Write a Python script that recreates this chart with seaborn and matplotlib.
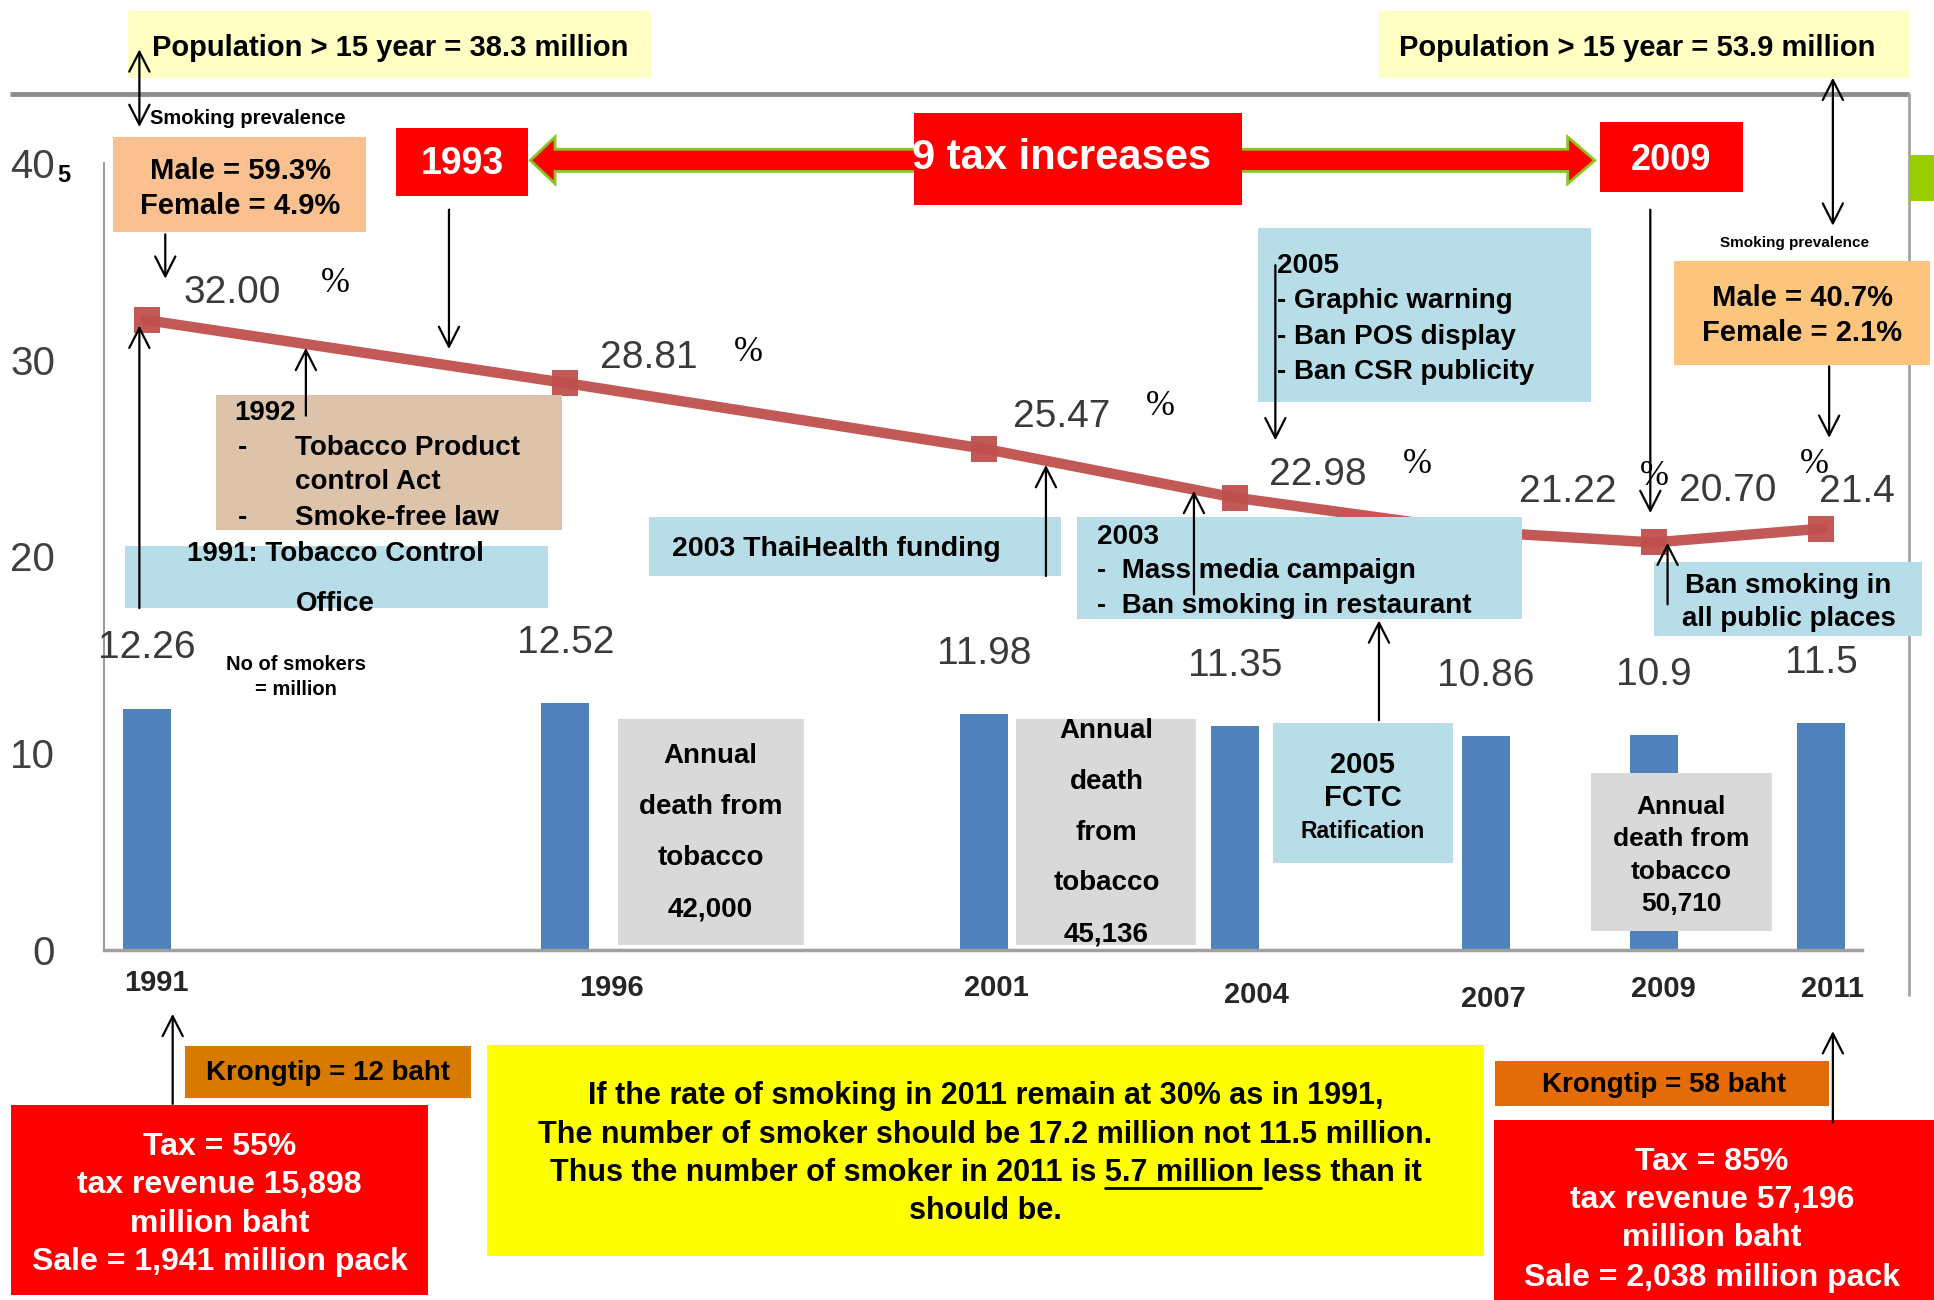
import matplotlib
matplotlib.use("Agg")
import matplotlib.pyplot as plt
import matplotlib.patches as mpatches
import seaborn as sns
import pandas as pd

# ---- data ----
years = [1991, 1996, 2001, 2004, 2007, 2009, 2011]
smokers_million = [12.26, 12.52, 11.98, 11.35, 10.86, 10.9, 11.5]
smoker_labels = ["12.26", "12.52", "11.98", "11.35", "10.86", "10.9", "11.5"]
prevalence = [32.00, 28.81, 25.47, 22.98, 21.22, 20.70, 21.4]
prevalence_labels = ["32.00", "28.81", "25.47", "22.98", "21.22", "20.70", "21.4"]
year_labels = ["1991", "1996", "2001", "2004", "2007", "2009", "2011"]
y_ticks = [0, 10, 20, 30, 40]

# slide units (the layout was measured on a 1568 x 1054 view of the slide)
W, H = 1568, 1054
PT = 1934 / W * 72 / 100  # slide px -> points

sns.set_theme(style="white")
BOLD = ['Liberation Sans', 'DejaVu Sans']
NUM = ['Liberation Sans', 'DejaVu Sans']
SERIF = ['Liberation Serif', 'DejaVu Serif']
plt.rcParams['font.family'] = BOLD

fig = plt.figure(figsize=(19.34, 13), dpi=100)

# ---- main chart ----
ax_l, ax_r, ax_t, ax_b = 84, 1510, 132, 770
ax = fig.add_axes([ax_l / W, 1 - ax_b / H, (ax_r - ax_l) / W, (ax_b - ax_t) / H])
ax.patch.set_alpha(0)
df = pd.DataFrame({'year': years, 'smokers': smokers_million, 'prevalence': prevalence})

sns.barplot(data=df, x='year', y='smokers', native_scale=True, width=0.2875,
            color='#4F81BD', saturation=1, linewidth=0, errorbar=None, ax=ax)
sns.lineplot(data=df, x='year', y='prevalence', color='#C0504D', lw=7.5,
             marker='s', markersize=19, markeredgewidth=0, alpha=0.95, ax=ax, zorder=3)

ax.set_xlim(1990.484, 2011.494)
ax.set_ylim(0, 40)
ax.set_xticks([])
ax.set_yticks(y_ticks)
ax.set_yticklabels([str(v) for v in y_ticks], fontsize=29, family=NUM, color='#404040')
ax.tick_params(axis='y', length=0, pad=35)
ax.set_xlabel('')
ax.set_ylabel('')
for s in ['top', 'right']:
    ax.spines[s].set_visible(False)
ax.spines['left'].set_color('#868686')
ax.spines['left'].set_linewidth(1.2)
ax.spines['bottom'].set_color('#A0A0A0')
ax.spines['bottom'].set_linewidth(2.5)

# bar value labels
for x, v, s in zip(years, smokers_million, smoker_labels):
    ax.annotate(s, (x, v), xytext=(0, 49 * PT), textcoords='offset points',
                ha='center', va='center', fontsize=28, family=NUM, color='#3A3A3A')

# prevalence labels (offsets in slide px)
line_off = [(69, -22), (68, -20), (63, -26), (67, -18), (66, -33), (60, -42), (29, -30)]
pct_off = [(153, -30), (148, -25), (143, -34), (148, -27), (136, -45), (130, -63)]
for x, v, s, (dx, dy) in zip(years, prevalence, prevalence_labels, line_off):
    ax.annotate(s, (x, v), xytext=(dx * PT, -dy * PT), textcoords='offset points',
                ha='center', va='center', fontsize=28, family=NUM, color='#3A3A3A')
for x, v, (dx, dy) in zip(years, prevalence, pct_off):
    ax.annotate('%', (x, v), xytext=(dx * PT, -dy * PT), textcoords='offset points',
                ha='center', va='center', fontsize=25, family=SERIF, color='black')

# year labels under the bars
tick_off = [(8, 27), (37, 31), (10, 31), (17, 37), (6, 40), (8, 32), (9, 32)]
for x, s, (dx, dy) in zip(years, year_labels, tick_off):
    ax.annotate(s, (x, 0), xytext=(dx * PT, -dy * PT), textcoords='offset points',
                ha='center', va='center', fontsize=21, fontweight='bold', family=BOLD,
                annotation_clip=False)

# ---- overlay for the slide annotations ----
ov = fig.add_axes([0, 0, 1, 1])
ov.set_xlim(0, W)
ov.set_ylim(H, 0)
ov.axis('off')
ov.patch.set_alpha(0)


def box(x0, y0, x1, y1, fc):
    ov.add_patch(mpatches.Rectangle((x0, y0), x1 - x0, y1 - y0, facecolor=fc,
                                    edgecolor='none', lw=0, zorder=2))


def txt(x, y, s, size, ha='center', color='black', weight='bold', family=BOLD):
    return ov.text(x, y + 2, s, fontsize=size, ha=ha, va='center', color=color,
                   fontweight=weight, family=family, zorder=4)


def arrow(x0, y0, x1, y1, style='->'):
    ov.annotate('', xy=(x1, y1), xytext=(x0, y0), zorder=5,
                arrowprops=dict(arrowstyle=style + ',head_length=0.55,head_width=0.28',
                                color='black', lw=1.6, mutation_scale=26,
                                shrinkA=0, shrinkB=0))


# slide frame
ov.plot([8, 1548], [76, 76], color='#8C8C8C', lw=3.5, zorder=1, solid_capstyle='butt')
ov.plot([1548, 1548], [76, 807], color='#A6A6A6', lw=2, zorder=1)
box(1548, 126, 1568, 163, '#99CC00')
txt(52, 140, '5', 17)

# population boxes
box(104, 9, 528, 63, '#FFFFC4')
txt(123, 37, 'Population > 15 year = 38.3 million', 21, ha='left')
box(1118, 9, 1548, 63, '#FFFFC4')
txt(1327, 37, 'Population > 15 year = 53.9 million', 21)
arrow(113, 40, 113, 103, '<->')
txt(122, 94, 'Smoking prevalence', 14.5, ha='left')
arrow(1486, 63, 1486, 183, '<->')
txt(1455, 195, 'Smoking prevalence', 11)

# prevalence by sex
box(92, 111, 297, 188, '#FAC090')
txt(195, 137, 'Male = 59.3%', 21)
txt(195, 165, 'Female = 4.9%', 21)
arrow(134, 190, 134, 226)
box(1357, 212, 1565, 296, '#FCC47D')
txt(1461, 240, 'Male = 40.7%', 21)
txt(1461, 268, 'Female = 2.1%', 21)
arrow(1483, 297, 1483, 355)

# tax increase banner
ov.add_patch(mpatches.Polygon(
    [(430, 130), (450, 111), (450, 121), (1271, 121), (1271, 111), (1293, 130),
     (1271, 149), (1271, 139), (450, 139), (450, 149)],
    closed=True, facecolor='#FF0000', edgecolor='#8DC21F', lw=2, zorder=2))
box(321, 104, 428, 159, '#FF0000')
txt(375, 131, '1993', 27, color='white')
box(741, 92, 1007, 166, '#FF0000')
txt(861, 126, '9 tax increases', 30, color='white')
box(1297, 99, 1413, 156, '#FF0000')
txt(1355, 128, '2009', 26, color='white')
arrow(364, 170, 364, 283)
arrow(1338, 170, 1338, 416)

# 1992 box
box(175, 320, 456, 430, '#DDC3A9')
txt(190, 333, '1992', 20, ha='left')
txt(193, 361, '-', 20, ha='left')
txt(239, 361, 'Tobacco Product', 20, ha='left')
txt(239, 389, 'control Act', 20, ha='left')
txt(193, 418, '-', 20, ha='left')
txt(239, 418, 'Smoke-free law', 20, ha='left')
arrow(248, 337, 248, 282)

# 1991 box
box(101, 443, 444, 493, '#B7DEE8')
txt(272, 447, '1991: Tobacco Control', 20)
txt(272, 488, 'Office', 20)
arrow(113, 493, 113, 264)

# 2003 ThaiHealth
box(526, 419, 860, 467, '#B7DEE8')
txt(678, 443, '2003 ThaiHealth funding', 20.5)
arrow(848, 467, 848, 377)

# 2005 warnings
box(1020, 185, 1290, 326, '#B7DEE8')
txt(1035, 214, '2005', 20, ha='left')
txt(1035, 242, '- Graphic warning', 20, ha='left')
txt(1035, 271, '- Ban POS display', 20, ha='left')
txt(1035, 300, '- Ban CSR publicity', 20, ha='left')
arrow(1034, 215, 1034, 357)

# 2003 mass media
box(873, 419, 1234, 502, '#B7DEE8')
txt(889, 433, '2003', 20, ha='left')
txt(889, 461, '-  Mass media campaign', 20, ha='left')
txt(889, 489, '-  Ban smoking in restaurant', 20, ha='left')
arrow(968, 482, 968, 398)

# ban smoking in public places
box(1341, 456, 1558, 516, '#B7DEE8')
txt(1450, 473, 'Ban smoking in', 20)
txt(1450, 500, 'all public places', 20)
arrow(1352, 490, 1352, 440)

txt(240, 537, 'No of smokers', 14.5)
txt(240, 557, '= million', 14.5)

# annual deaths
box(501, 583, 652, 766, '#D9D9D9')
for yy, s in zip([611, 652, 694, 735], ['Annual', 'death from', 'tobacco', '42,000']):
    txt(576, yy, s, 20)
box(824, 583, 970, 766, '#D9D9D9')
for yy, s in zip([591, 632, 673, 714, 756], ['Annual', 'death', 'from', 'tobacco', '45,136']):
    txt(897, yy, s, 20)
box(1290, 627, 1437, 755, '#D9D9D9')
for yy, s in zip([652, 678, 705, 731], ['Annual', 'death from', 'tobacco', '50,710']):
    txt(1363, yy, s, 19)

# FCTC
box(1032, 586, 1178, 700, '#B7DEE8')
txt(1105, 618, '2005', 21)
txt(1105, 645, 'FCTC', 21)
txt(1105, 672, 'Ratification', 16.5)
arrow(1118, 584, 1118, 503)

# bottom: prices and taxes
box(150, 848, 382, 890, '#D97A00')
txt(266, 868, 'Krongtip = 12 baht', 20)
arrow(140, 895, 140, 822)
box(9, 896, 347, 1050, '#FF0000')
for yy, s in zip([928, 959, 990, 1021],
                 ['Tax = 55%', 'tax revenue 15,898', 'million baht', 'Sale = 1,941 million pack']):
    txt(178, yy, s, 23, color='white')

box(1212, 860, 1483, 897, '#E36C09')
txt(1349, 878, 'Krongtip = 58 baht', 20)
arrow(1486, 910, 1486, 836)
box(1211, 908, 1568, 1054, '#FF0000')
for yy, s in zip([940, 971, 1002, 1034],
                 ['Tax = 85%', 'tax revenue 57,196', 'million baht', 'Sale = 2,038 million pack']):
    txt(1388, yy, s, 23, color='white')

# yellow note
box(395, 847, 1203, 1018, '#FFFF00')
note_lines = ['If the rate of smoking in 2011 remain at 30% as in 1991,',
              'The number of smoker should be 17.2 million not 11.5 million.',
              'Thus the number of smoker in 2011 is 5.7 million less than it',
              'should be.']
for yy, s in zip([887, 918, 949, 980], note_lines):
    txt(799, yy, s, 22)

# underline "5.7 million " on the third line
fig.canvas.draw()
rend = fig.canvas.get_renderer()


def width_of(s, size):
    t = txt(0, -100, s, size)
    w = t.get_window_extent(rend).width / 1934 * W
    t.remove()
    return w


full_w = width_of(note_lines[2], 22)
pre_w = width_of('Thus the number of smoker in 2011 is 5.7 million', 22)
part_w = width_of('5.7 million', 22)
x_start = 799 - full_w / 2 + pre_w - part_w
x_end = 799 - full_w / 2 + pre_w + 6
ov.plot([x_start, x_end], [963, 963], color='black', lw=2, zorder=5)

fig.savefig('out.png', dpi=100)
